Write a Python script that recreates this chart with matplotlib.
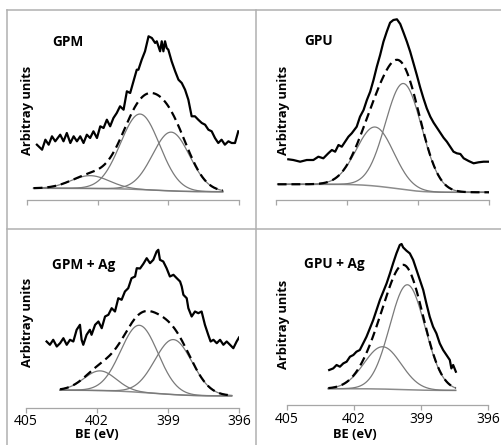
import matplotlib
matplotlib.use("Agg")
import matplotlib.pyplot as plt
from matplotlib.lines import Line2D
import numpy as np

plt.rcParams['font.family'] = ['Open Sans', 'DejaVu Sans']

# ---- measured N1s spectra (BE in eV, intensity in arbitrary units) ----
gpm_be = [404.58, 404.36, 404.22, 404.08, 403.94, 403.80, 403.59, 403.45, 403.31, 403.16,
          403.02, 402.88, 402.74, 402.60, 402.46, 402.32, 402.18, 402.03, 401.89, 401.75,
          401.61, 401.47, 401.33, 401.19, 401.05, 400.90, 400.76, 400.62, 400.48, 400.34,
          400.27, 400.13, 399.99, 399.84, 399.70, 399.56, 399.49, 399.35, 399.28, 399.21,
          399.14, 399.07, 399.00, 398.86, 398.71, 398.57, 398.43, 398.29, 398.15, 398.01,
          397.87, 397.73, 397.58, 397.44, 397.30, 397.16, 397.02, 396.88, 396.74, 396.60,
          396.45, 396.31, 396.17, 396.03]
gpm_int = [55.3, 50.3, 60.3, 55.3, 63.7, 58.7, 65.3, 58.7, 67.0, 57.0,
           63.7, 58.7, 63.7, 57.0, 65.3, 62.0, 68.7, 62.0, 73.7, 72.0,
           80.3, 73.7, 82.0, 87.0, 93.7, 90.3, 108.7, 107.0, 118.7, 130.3,
           130.3, 140.3, 148.7, 163.7, 162.0, 157.0, 158.7, 148.7, 158.7, 148.7,
           158.7, 152.0, 150.3, 138.7, 128.7, 120.3, 117.0, 110.3, 100.3, 83.7,
           83.7, 80.3, 77.0, 75.3, 70.3, 68.7, 62.0, 57.0, 60.3, 55.3,
           58.7, 57.0, 57.0, 68.7]

gpu_be = [404.48, 404.27, 403.98, 403.70, 403.42, 403.21, 403.00, 402.79, 402.64, 402.50,
          402.36, 402.22, 402.08, 401.94, 401.80, 401.59, 401.45, 401.30, 401.16, 401.02,
          400.88, 400.74, 400.60, 400.46, 400.32, 400.18, 400.04, 399.89, 399.75, 399.61,
          399.47, 399.33, 399.19, 399.05, 398.91, 398.77, 398.63, 398.48, 398.34, 398.20,
          398.06, 397.92, 397.78, 397.64, 397.50, 397.36, 397.21, 397.07, 396.86, 396.65,
          396.44, 396.23, 396.04]
gpu_int = [40.7, 40.0, 38.3, 40.0, 40.0, 43.3, 41.7, 46.7, 50.0, 48.3,
           55.0, 53.3, 58.3, 63.3, 66.7, 73.3, 83.3, 90.0, 100.0, 108.3,
           120.0, 133.3, 145.0, 158.3, 168.3, 177.3, 180.0, 180.7, 176.0, 167.3,
           158.3, 148.3, 136.7, 125.0, 112.7, 101.7, 91.7, 83.3, 77.3, 72.3,
           67.3, 62.3, 58.3, 53.3, 48.3, 46.7, 46.0, 41.7, 39.0, 36.7,
           37.7, 38.3, 38.3]

gpmag_be = [404.13, 403.99, 403.85, 403.70, 403.56, 403.42, 403.28, 403.14, 403.00, 402.86,
            402.72, 402.65, 402.58, 402.44, 402.30, 402.23, 402.08, 401.94, 401.80, 401.66,
            401.52, 401.38, 401.24, 401.10, 400.96, 400.82, 400.68, 400.54, 400.39, 400.32,
            400.18, 400.04, 399.90, 399.76, 399.62, 399.48, 399.41, 399.34, 399.20, 399.06,
            398.92, 398.77, 398.63, 398.49, 398.42, 398.35, 398.21, 398.14, 398.00, 397.86,
            397.72, 397.58, 397.44, 397.30, 397.20, 397.08, 396.94, 396.80, 396.66, 396.52,
            396.38, 396.24, 396.10, 396.00]
gpmag_int = [66.0, 62.7, 67.7, 61.0, 64.3, 69.3, 62.7, 67.7, 66.0, 77.7,
             82.7, 67.7, 62.7, 72.7, 77.7, 72.7, 82.7, 86.0, 79.3, 91.0,
             92.7, 99.3, 96.0, 109.3, 107.7, 116.0, 119.3, 129.3, 131.0, 139.3,
             139.0, 143.7, 149.3, 144.3, 147.7, 156.0, 157.7, 147.7, 146.0, 139.3,
             131.0, 132.7, 129.3, 126.0, 121.0, 112.7, 109.3, 99.3, 91.0, 96.0,
             94.3, 96.0, 82.7, 72.7, 66.0, 67.7, 64.3, 67.7, 62.7, 66.0,
             62.7, 59.3, 66.0, 70.0]

gpuag_be = [403.11, 402.93, 402.78, 402.63, 402.48, 402.33, 402.18, 402.03, 401.89, 401.74,
            401.59, 401.44, 401.29, 401.14, 400.99, 400.84, 400.69, 400.54, 400.39, 400.25,
            400.10, 399.95, 399.87, 399.80, 399.65, 399.50, 399.35, 399.20, 399.05, 398.90,
            398.76, 398.61, 398.46, 398.31, 398.16, 398.01, 397.86, 397.71, 397.64, 397.56,
            397.44]
gpuag_int = [34.7, 36.3, 39.7, 38.0, 41.3, 43.0, 48.0, 49.7, 53.0, 54.7,
             61.3, 68.0, 76.3, 84.7, 94.7, 104.7, 113.0, 121.3, 131.3, 141.3,
             151.3, 159.7, 160.7, 157.3, 154.0, 151.3, 144.7, 134.7, 124.7, 114.7,
             101.3, 88.0, 78.0, 71.3, 61.3, 54.7, 49.7, 44.7, 36.3, 39.7,
             33.0]

# ---- fitted components (centre eV, height, FWHM eV), background ends, fit range ----
gpm_pk_center = [402.32, 400.20, 398.88]
gpm_pk_height = [12.8, 75.5, 58.8]
gpm_pk_fwhm = [1.9, 1.95, 1.85]
gpm_bg = [11.7, 8.3]
gpm_range = [404.72, 396.69]

gpu_pk_center = [400.81, 399.61]
gpu_pk_height = [59.0, 106.0]
gpu_pk_fwhm = [1.85, 1.8]
gpu_bg = [15.7, 7.7]
gpu_range = [404.93, 396.0]

gpmag_pk_center = [401.87, 400.21, 398.77]
gpmag_pk_height = [19.7, 67.0, 55.0]
gpmag_pk_fwhm = [1.6, 1.85, 1.85]
gpmag_bg = [17.3, 11.7]
gpmag_range = [403.56, 396.31]

gpuag_pk_center = [400.72, 399.61]
gpuag_pk_height = [42.3, 105.0]
gpuag_pk_fwhm = [1.95, 1.85]
gpuag_bg = [16.0, 14.3]
gpuag_range = [403.15, 397.45]

titles = ['GPM', 'GPU', 'GPM + Ag', 'GPU + Ag']
xticks = [405, 402, 399, 396]

W, H = 502, 445
fig = plt.figure(figsize=(W / 100, H / 100), dpi=100)


def gauss(x, c, h, w):
    return h * np.exp(-4 * np.log(2) * ((x - c) / w) ** 2)


def panel(px0, px1, py_axis, py_top, be, inten, cen, hgt, fwhm, bg, rng,
          title, title_xy, ylab_xy, labels=False, be_xy=None):
    ax = fig.add_axes([px0 / W, 1 - py_axis / H, (px1 - px0) / W, (py_axis - py_top) / H])
    ax.set_xlim(405, 396)
    ax.set_ylim(0, py_axis - py_top)
    ax.patch.set_alpha(0)

    x = np.linspace(rng[0], rng[1], 300)
    comps = [gauss(x, c, h, w) for c, h, w in zip(cen, hgt, fwhm)]
    tot = np.sum(comps, axis=0)
    # shirley-type step background
    cum = np.cumsum(tot[::-1])[::-1]
    back = bg[1] + (bg[0] - bg[1]) * cum / cum[0]

    ax.plot(x, back, color='#8c8c8c', lw=1.1)
    for comp in comps:
        ax.plot(x, comp + back, color='#7a7a7a', lw=0.9)
    ax.plot(x, tot + back, color='black', lw=1.6, dashes=(4.0, 2.2))
    ax.plot(be, inten, color='black', lw=1.6)

    for s in ['top', 'right', 'left']:
        ax.spines[s].set_visible(False)
    ax.spines['bottom'].set_color('#a6a6a6')
    ax.spines['bottom'].set_linewidth(0.9)
    ax.set_yticks([])
    ax.set_xticks(xticks)
    ax.tick_params(axis='x', direction='out', length=3.5, width=0.9, color='#a6a6a6',
                   pad=1.5, labelsize=10, labelcolor='black')
    if not labels:
        ax.set_xticklabels([])
    else:
        fig.text(be_xy[0] / W, 1 - be_xy[1] / H, 'BE (eV)', ha='center', va='center',
                 fontsize=9.3, fontweight='bold')

    fig.text(title_xy[0] / W, 1 - title_xy[1] / H, title, ha='left', va='center',
             fontsize=9.8, fontweight='bold')
    fig.text(ylab_xy[0] / W, 1 - ylab_xy[1] / H, 'Arbitray units', ha='center', va='center',
             rotation=90, fontsize=9.3, fontweight='bold')
    return ax


panel(27, 239, 200, 12, gpm_be, gpm_int, gpm_pk_center, gpm_pk_height, gpm_pk_fwhm,
      gpm_bg, gpm_range, titles[0], (52, 42), (28, 110))
panel(276, 489, 200, 12, gpu_be, gpu_int, gpu_pk_center, gpu_pk_height, gpu_pk_fwhm,
      gpu_bg, gpu_range, titles[1], (304, 41), (284, 110))
panel(26, 239, 407.5, 232, gpmag_be, gpmag_int, gpmag_pk_center, gpmag_pk_height,
      gpmag_pk_fwhm, gpmag_bg, gpmag_range, titles[2], (52, 265), (28, 322),
      labels=True, be_xy=(97, 435))
panel(287, 488, 404.7, 232, gpuag_be, gpuag_int, gpuag_pk_center, gpuag_pk_height,
      gpuag_pk_fwhm, gpuag_bg, gpuag_range, titles[3], (304, 264), (283, 324),
      labels=True, be_xy=(355, 435))

# table-like frame lines around the four panels
grid_c = '#b0b0b0'
for xs, ys in [([7, W], [10, 10]), ([7, W], [229, 229]),
               ([7, 7], [10, H]), ([256.5, 256.5], [10, H])]:
    fig.add_artist(Line2D([x / W for x in xs], [1 - y / H for y in ys],
                          transform=fig.transFigure, color=grid_c, lw=1.1))

fig.savefig('out.png', dpi=100)
